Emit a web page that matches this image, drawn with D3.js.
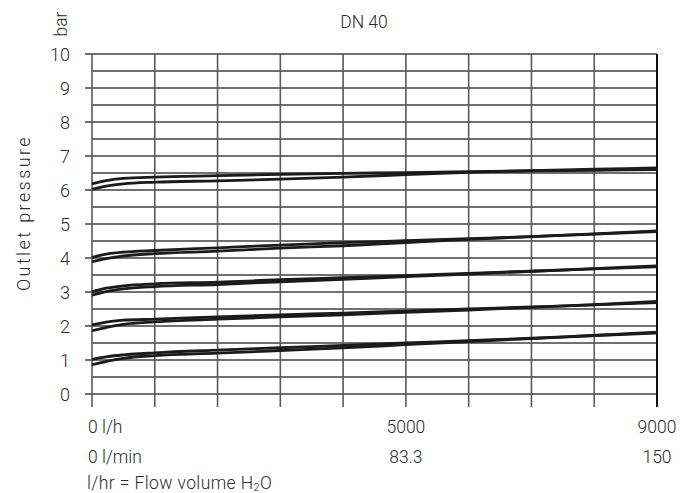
<!DOCTYPE html>
<html><head><meta charset="utf-8">
<script src="https://cdn.jsdelivr.net/npm/d3@7"></script>
<style>
body{margin:0;background:#fff;}
text{font-family:Roboto,"DejaVu Sans",sans-serif;fill:#2a2a2a;font-weight:300;}
</style></head>
<body><svg id="c" width="689" height="493"></svg>
<script>
const flows = [0, 250, 500, 1000, 2000, 3000, 4000, 5000, 6000, 7000, 8000, 9000];
const yTicks = [0,1,2,3,4,5,6,7,8,9,10];
const xTicksLh = [0, 5000, 9000];
const xLabelsLh = ["0 l/h", "5000", "9000"];
const xLabelsLmin = ["0 l/min", "83.3", "150"];
const p6Upper = [6.18, 6.28, 6.34, 6.38, 6.42, 6.46, 6.49, 6.51, 6.54, 6.56, 6.58, 6.60];
const p6Lower = [6.02, 6.12, 6.18, 6.23, 6.27, 6.32, 6.38, 6.45, 6.52, 6.57, 6.61, 6.65];
const p4Upper = [4.02, 4.12, 4.17, 4.22, 4.30, 4.38, 4.45, 4.51, 4.57, 4.63, 4.70, 4.78];
const p4Lower = [3.89, 3.99, 4.06, 4.13, 4.20, 4.29, 4.36, 4.45, 4.55, 4.63, 4.71, 4.80];
const p3Upper = [3.01, 3.12, 3.18, 3.24, 3.29, 3.36, 3.42, 3.48, 3.55, 3.61, 3.68, 3.74];
const p3Lower = [2.91, 3.02, 3.09, 3.16, 3.22, 3.30, 3.37, 3.45, 3.53, 3.61, 3.69, 3.77];
const p2Upper = [2.03, 2.12, 2.17, 2.20, 2.27, 2.33, 2.38, 2.44, 2.50, 2.56, 2.62, 2.69];
const p2Lower = [1.86, 1.97, 2.05, 2.12, 2.20, 2.27, 2.33, 2.40, 2.47, 2.55, 2.63, 2.72];
const p1Upper = [1.02, 1.10, 1.15, 1.21, 1.29, 1.36, 1.43, 1.50, 1.57, 1.64, 1.72, 1.79];
const p1Lower = [0.86, 0.97, 1.05, 1.13, 1.20, 1.28, 1.36, 1.45, 1.54, 1.63, 1.72, 1.82];
const series = [p6Upper,p6Lower,p4Upper,p4Lower,p3Upper,p3Lower,p2Upper,p2Lower,p1Upper,p1Lower];

const svg = d3.select("#c");
const x = d3.scaleLinear().domain([0,9000]).range([92,657]);
const y = d3.scaleLinear().domain([0,10]).range([394,54]);
const FS = "17.5px";

// horizontal grid
const hvals = d3.range(0, 10.01, 0.5);
svg.append("g").selectAll("line").data(hvals).join("line")
  .attr("x1", d => Number.isInteger(d) ? 85 : x(0)).attr("x2", x(9000))
  .attr("y1", d => y(d)).attr("y2", d => y(d))
  .attr("stroke", "#707070").attr("stroke-width", 1.8);
// vertical grid
const vvals = d3.range(0, 9001, 1000);
svg.append("g").selectAll("line").data(vvals).join("line")
  .attr("x1", d => x(d)).attr("x2", d => x(d))
  .attr("y1", y(10)).attr("y2", y(0) + 13)
  .attr("stroke", d => d === 9000 ? "#111" : "#5a5a5a")
  .attr("stroke-width", d => d === 9000 ? 2 : 1.6);

// y axis labels
const yAxis = d3.axisLeft(y).tickValues(yTicks).tickSize(0).tickPadding(22).tickFormat(d3.format("d"));
const ga = svg.append("g").attr("transform", `translate(${x(0)},0)`).call(yAxis);
ga.select(".domain").remove();
ga.selectAll("text").style("font-size", "18px").style("font-weight", 300).attr("fill", "#2a2a2a").attr("dy", "0.34em");

// curves
const line = d3.line().x((d,i) => x(flows[i])).y(d => y(d)).curve(d3.curveMonotoneX);
svg.append("g").selectAll("path").data(series).join("path")
  .attr("d", line).attr("fill", "none").attr("stroke", "#1c1a1b").attr("stroke-width", 2.8);

// x labels
svg.append("g").selectAll("text").data(xTicksLh).join("text")
  .attr("x", (d,i) => i === 0 ? x(d) - 4 : x(d)).attr("y", 433)
  .attr("text-anchor", (d,i) => i === 0 ? "start" : "middle")
  .style("font-size", FS).text((d,i) => xLabelsLh[i]);
svg.append("g").selectAll("text").data(xTicksLh).join("text")
  .attr("x", (d,i) => i === 0 ? x(d) - 4 : x(d)).attr("y", 463)
  .attr("text-anchor", (d,i) => i === 0 ? "start" : "middle")
  .style("font-size", FS).text((d,i) => xLabelsLmin[i]);
const ft = svg.append("text").attr("x", 87).attr("y", 489).style("font-size", FS).style("letter-spacing", "0.4px");
ft.append("tspan").text("l/hr = Flow volume H");
ft.append("tspan").attr("dy", 2).style("font-size", "11px").text("2");
ft.append("tspan").attr("dy", -2).text("O");

// titles
svg.append("text").attr("x", 364).attr("y", 28).attr("text-anchor", "middle").style("font-size", FS).text("DN 40");
svg.append("text").attr("transform", "translate(67,24) rotate(-90)").attr("text-anchor", "middle").style("font-size", FS).text("bar");
svg.append("text").attr("transform", "translate(30,213) rotate(-90)").attr("text-anchor", "middle")
  .style("font-size", "18px").style("letter-spacing", "2.4px").text("Outlet pressure");
</script></body></html>
